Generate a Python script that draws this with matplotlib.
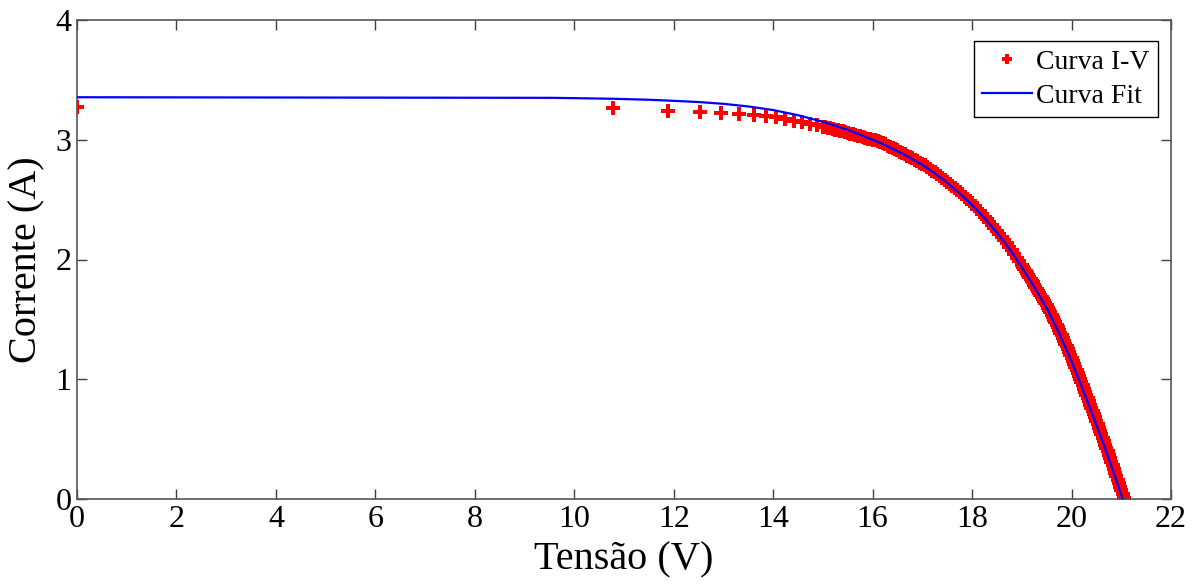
import matplotlib
matplotlib.use("Agg")
import matplotlib.pyplot as plt

# Measured I-V points (V, A) - sparse part of the sweep
iv_voltage_low = [0.00, 10.78, 11.88, 12.52, 12.96, 13.31, 13.61, 13.85,
                  14.05, 14.24, 14.41, 14.58, 14.74, 14.89,
                  15.00, 15.05, 15.10, 15.15, 15.20, 15.25, 15.30, 15.35, 15.40, 15.45,
                  15.50, 15.55, 15.60, 15.65, 15.70, 15.75, 15.80, 15.85, 15.90, 15.95]
iv_current_low = [3.275, 3.262, 3.242, 3.233, 3.226, 3.219, 3.208, 3.198,
                  3.186, 3.170, 3.158, 3.146, 3.134, 3.121,
                  3.110, 3.106, 3.101, 3.096, 3.090, 3.085, 3.080, 3.074, 3.069, 3.063,
                  3.058, 3.052, 3.046, 3.040, 3.034, 3.028, 3.022, 3.016, 3.010, 3.005]

# Measured I-V points (V, A) - knee region
iv_voltage_knee = [16.00, 16.05, 16.10, 16.15, 16.20, 16.25, 16.30, 16.35, 16.40, 16.45,
                   16.50, 16.55, 16.60, 16.65, 16.70, 16.75, 16.80, 16.85, 16.90, 16.95,
                   17.00, 17.05, 17.10, 17.15, 17.20, 17.25, 17.30, 17.35, 17.40, 17.45,
                   17.50, 17.55, 17.60, 17.65, 17.70, 17.75, 17.80, 17.85, 17.90, 17.95,
                   18.00, 18.05, 18.10, 18.15, 18.20, 18.25, 18.30, 18.35, 18.40, 18.45,
                   18.50, 18.55, 18.60, 18.65, 18.70, 18.75, 18.80, 18.85, 18.90, 18.95]
iv_current_knee = [3.000, 2.994, 2.987, 2.979, 2.970, 2.961, 2.951, 2.941, 2.931, 2.921,
                   2.911, 2.901, 2.890, 2.879, 2.868, 2.857, 2.845, 2.833, 2.821, 2.810,
                   2.798, 2.785, 2.771, 2.757, 2.743, 2.729, 2.714, 2.698, 2.682, 2.667,
                   2.651, 2.634, 2.616, 2.599, 2.581, 2.563, 2.545, 2.526, 2.506, 2.487,
                   2.468, 2.447, 2.425, 2.403, 2.381, 2.359, 2.336, 2.312, 2.288, 2.265,
                   2.241, 2.215, 2.188, 2.162, 2.135, 2.107, 2.078, 2.047, 2.016, 1.986]

# Measured I-V points (V, A) - steep region near Voc
iv_voltage_high = [19.000, 19.025, 19.050, 19.075, 19.100, 19.125, 19.150, 19.175,
                   19.200, 19.225, 19.250, 19.275, 19.300, 19.325, 19.350, 19.375,
                   19.400, 19.425, 19.450, 19.475, 19.500, 19.525, 19.550, 19.575,
                   19.600, 19.625, 19.650, 19.675, 19.700, 19.725, 19.750, 19.775,
                   19.800, 19.825, 19.850, 19.875, 19.900, 19.925, 19.950, 19.975,
                   20.000, 20.025, 20.050, 20.075, 20.100, 20.125, 20.150, 20.175,
                   20.200, 20.225, 20.250, 20.275, 20.300, 20.325, 20.350, 20.375,
                   20.400, 20.425, 20.450, 20.475, 20.500, 20.525, 20.550, 20.575,
                   20.600, 20.625, 20.650, 20.675, 20.700, 20.725, 20.750, 20.775,
                   20.800, 20.825, 20.850, 20.875, 20.900, 20.925, 20.950, 20.975,
                   21.000, 21.025, 21.050]
iv_current_high = [1.955, 1.939, 1.922, 1.906, 1.890, 1.874, 1.857, 1.841,
                   1.824, 1.808, 1.791, 1.774, 1.757, 1.740, 1.722, 1.705,
                   1.688, 1.671, 1.654, 1.637, 1.620, 1.599, 1.578, 1.558,
                   1.537, 1.517, 1.496, 1.476, 1.455, 1.434, 1.413, 1.390,
                   1.367, 1.344, 1.320, 1.297, 1.274, 1.251, 1.227, 1.204,
                   1.181, 1.155, 1.129, 1.103, 1.077, 1.052, 1.026, 1.000,
                   0.974, 0.948, 0.922, 0.896, 0.869, 0.842, 0.815, 0.788,
                   0.761, 0.734, 0.707, 0.681, 0.654, 0.626, 0.597, 0.569,
                   0.540, 0.512, 0.483, 0.455, 0.426, 0.398, 0.370, 0.340,
                   0.310, 0.280, 0.250, 0.220, 0.190, 0.161, 0.131, 0.101,
                   0.071, 0.041, 0.011]

# Fitted curve (V, A)
fit_voltage = [0.0, 9.6, 10.8, 11.5, 12.0, 12.5, 13.0, 13.5, 14.0, 14.5, 15.0, 15.5,
               16.00, 16.25, 16.50, 16.75, 17.00, 17.25, 17.50, 17.75, 18.00, 18.25,
               18.50, 18.75, 19.00, 19.25, 19.50, 19.75, 20.00, 20.25, 20.50, 20.75,
               21.00, 21.03]
fit_current = [3.355, 3.350, 3.342, 3.334, 3.325, 3.315, 3.300, 3.278, 3.248, 3.205,
               3.150, 3.082,
               3.000, 2.955, 2.905, 2.850, 2.790, 2.720, 2.640, 2.552, 2.455, 2.345,
               2.225, 2.090, 1.935, 1.770, 1.595, 1.385, 1.150, 0.890, 0.620, 0.335,
               0.035, 0.0]

x_ticks = [0, 2, 4, 6, 8, 10, 12, 14, 16, 18, 20, 22]
y_ticks = [0, 1, 2, 3, 4]

iv_voltage = iv_voltage_low + iv_voltage_knee + iv_voltage_high
iv_current = iv_current_low + iv_current_knee + iv_current_high

plt.rcParams['font.family'] = ['Liberation Serif', 'DejaVu Serif']

fig = plt.figure(figsize=(11.97, 5.85), dpi=100)
ax = fig.add_axes([77/1197, 1 - 499/585, (1171 - 77)/1197, (499 - 20)/585])

ax.plot(iv_voltage, iv_current, linestyle='none', marker='P', markersize=10.5,
        color='#ff0000', markeredgewidth=0, label='Curva I-V', zorder=2)
ax.plot(fit_voltage, fit_current, color='#0000ff', linewidth=1.6,
        label='Curva Fit', zorder=3)

ax.set_xlim(0, 22)
ax.set_ylim(0, 4)
ax.set_xticks(x_ticks)
ax.set_yticks(y_ticks)
ax.tick_params(direction='in', length=7, width=1, color='#404040',
               top=True, right=True, labelsize=23, pad=4)
for s in ax.spines.values():
    s.set_color('#555555')
    s.set_linewidth(1.2)

ax.set_xlabel('Tensão (V)', fontsize=29, labelpad=6)
ax.set_ylabel('Corrente (A)', fontsize=29, labelpad=7)

leg = ax.legend(loc='upper right', bbox_to_anchor=(1158/1197, 1 - 41/585),
                bbox_transform=fig.transFigure, borderaxespad=0,
                fontsize=20, frameon=True, fancybox=False,
                edgecolor='black', framealpha=1,
                handlelength=1.8, handletextpad=0.15, borderpad=0.3,
                labelspacing=0.3, markerscale=0.75)
leg.get_frame().set_linewidth(1.0)

fig.savefig('out.png', dpi=100)
